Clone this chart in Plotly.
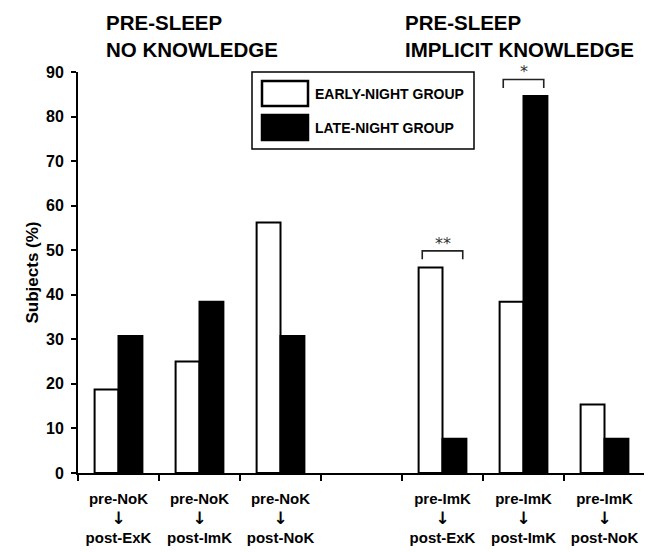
import plotly.graph_objects as go

# ---------------- data ----------------
ARROW = "<span style='font-family:DejaVu Sans;font-size:17px'>↓</span>"
CATEGORIES = [
    "pre-NoK<br>" + ARROW + "<br>post-ExK",
    "pre-NoK<br>" + ARROW + "<br>post-ImK",
    "pre-NoK<br>" + ARROW + "<br>post-NoK",
    " ",
    "pre-ImK<br>" + ARROW + "<br>post-ExK",
    "pre-ImK<br>" + ARROW + "<br>post-ImK",
    "pre-ImK<br>" + ARROW + "<br>post-NoK",
]
SERIES_NAMES = ["EARLY-NIGHT GROUP", "LATE-NIGHT GROUP"]
EARLY = [18.75, 25.0, 56.25, None, 46.15, 38.46, 15.38]
LATE = [30.77, 38.46, 30.77, None, 7.69, 84.62, 7.69]
Y_TICKS = [0, 10, 20, 30, 40, 50, 60, 70, 80, 90]
SIG_INDEX = [4, 5]
SIG_TEXT = ["**", "*"]
PANEL_TITLES = ["PRE-SLEEP<br>NO KNOWLEDGE", "PRE-SLEEP<br>IMPLICIT KNOWLEDGE"]
Y_TITLE = "Subjects (%)"

# ---------------- layout helpers ----------------
# page body has an 8px margin, so the figure is drawn 8px smaller and
# reference pixel positions are shifted by that offset.
OFF = 8
W, H = 652 - OFF, 552 - OFF
L, R, T, B = 78 - OFF, 7, 72 - OFF, 79
PW, PH = W - L - R, H - T - B
FONT = "Liberation Sans, Arial, sans-serif"


def px(x):
    return (x - OFF - L) / PW


def py(y):
    return (H - B - (y - OFF)) / PH


fig = go.Figure()
fig.add_trace(go.Bar(
    x=CATEGORIES, y=EARLY, name=SERIES_NAMES[0],
    marker=dict(color="white", line=dict(color="black", width=2)),
    showlegend=False,
))
fig.add_trace(go.Bar(
    x=CATEGORIES, y=LATE, name=SERIES_NAMES[1],
    marker=dict(color="black", line=dict(color="black", width=2)),
    showlegend=False,
))

shapes = []
annotations = []

# significance brackets
for idx, txt in zip(SIG_INDEX, SIG_TEXT):
    top = max(v for v in (EARLY[idx], LATE[idx]) if v is not None)
    y_hi, y_lo = top + 3.7, top + 1.8
    x0, x1 = idx - 0.25, idx + 0.25
    shapes.append(dict(type="path", xref="x", yref="y",
                       path=f"M {x0} {y_lo} L {x0} {y_hi} L {x1} {y_hi} L {x1} {y_lo}",
                       line=dict(color="#222", width=1.6)))
    annotations.append(dict(x=idx, y=y_hi, xref="x", yref="y", text=txt,
                            showarrow=False, yanchor="bottom", yshift=-4,
                            font=dict(family="DejaVu Sans, sans-serif", size=16, color="#333")))

# panel titles
for txt, xp in zip(PANEL_TITLES, [104, 403]):
    annotations.append(dict(x=px(xp), y=py(35.5), xref="paper", yref="paper",
                            text=txt, showarrow=False, xanchor="left", yanchor="middle",
                            align="left",
                            font=dict(family=FONT, size=20.5, color="black", weight="bold")))

# legend (drawn)
shapes.append(dict(type="rect", xref="paper", yref="paper",
                   x0=px(252), x1=px(474), y0=py(149), y1=py(72),
                   line=dict(color="black", width=1.5), fillcolor="white"))
for name, fill, (yt, yb) in zip(SERIES_NAMES, ["white", "black"], [(81, 106), (115, 140)]):
    shapes.append(dict(type="rect", xref="paper", yref="paper",
                       x0=px(262), x1=px(308), y0=py(yb), y1=py(yt),
                       line=dict(color="black", width=2.5), fillcolor=fill))
    annotations.append(dict(x=px(313), y=py((yt + yb) / 2), xref="paper", yref="paper",
                            text=name, showarrow=False, xanchor="left", yanchor="middle",
                            font=dict(family=FONT, size=14, color="black", weight="bold")))

fig.update_layout(
    width=W, height=H, autosize=False,
    margin=dict(l=L, r=R, t=T, b=B, pad=0),
    paper_bgcolor="white", plot_bgcolor="white",
    barmode="group", bargap=0.41, bargroupgap=0,
    font=dict(family=FONT, color="black"),
    shapes=shapes, annotations=annotations,
    xaxis=dict(
        type="category", categoryorder="array", categoryarray=CATEGORIES,
        range=[-0.5, len(CATEGORIES) - 0.5],
        tickson="boundaries", ticks="outside", ticklen=6, tickwidth=2, tickcolor="black",
        showline=True, linewidth=2, linecolor="black", showgrid=False, zeroline=False,
        tickfont=dict(family=FONT, size=15, color="black", weight="bold"),
        ticklabelstandoff=11, tickangle=0,
    ),
    yaxis=dict(
        range=[0, 90], tickmode="array", tickvals=Y_TICKS,
        ticks="outside", ticklen=5, tickwidth=2, tickcolor="black",
        showline=True, linewidth=2, linecolor="black", showgrid=False, zeroline=False,
        tickfont=dict(family=FONT, size=16, color="black", weight="bold"),
        ticklabelstandoff=4,
        title=dict(text=Y_TITLE, standoff=3,
                   font=dict(family=FONT, size=17, color="black", weight="bold")),
    ),
)

fig.write_html("out.html")
